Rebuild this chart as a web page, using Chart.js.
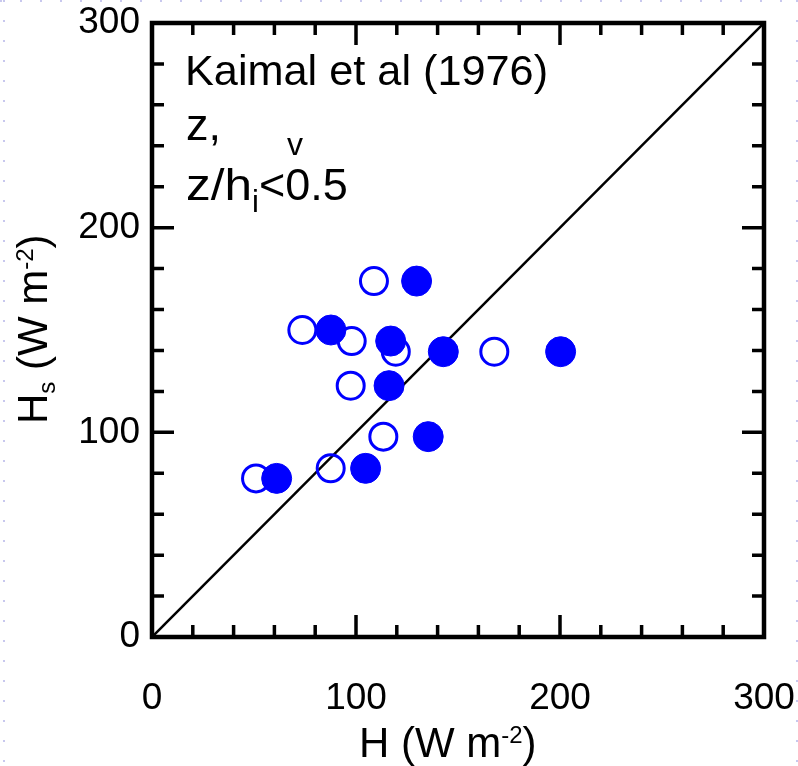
<!DOCTYPE html>
<html>
<head>
<meta charset="utf-8">
<script src="https://cdn.jsdelivr.net/npm/chart.js@4.4.1/dist/chart.umd.min.js"></script>
<style>
  html, body { margin: 0; padding: 0; background: #fff; }
  #caixa { width: 798px; height: 766px; position: relative; }
</style>
</head>
<body>
<div id="caixa"><canvas id="grafico"></canvas></div>
<script>
  // H (eixo x) e Hs (eixo y), em W m-2
  const abertosX = [108.8, 73.7, 97.9, 119.5, 167.8, 97.4, 113.4, 87.6, 51.0];
  const abertosY = [173.9, 150.0, 144.6, 139.4, 139.4, 122.8, 97.9, 82.4, 77.5];
  const cheiosX = [129.7, 87.7, 117.0, 142.8, 200.3, 116.2, 135.4, 104.7, 61.1];
  const cheiosY = [173.9, 150.0, 144.6, 139.4, 139.4, 122.8, 97.9, 82.4, 77.5];
  const linhaX = [0, 300];
  const linhaY = [0, 300];
  const ticksEixo = [0, 100, 200, 300];
  const passoMenor = 20;

  const fonte = "'Liberation Sans', Arial, sans-serif";
  const azul = '#0000ff';

  function pontos(xs, ys) {
    return xs.map((v, i) => ({ x: v, y: ys[i] }));
  }

  // escreve pedaços de texto com sub/sobrescrito
  function textoRico(ctx, x, y, partes) {
    let cx = x;
    partes.forEach(p => {
      const sx = p.sx || 1;
      ctx.font = p.tam + 'px ' + fonte;
      ctx.save();
      ctx.translate(cx, y + (p.dy || 0));
      ctx.scale(sx, 1);
      ctx.fillText(p.t, 0, 0);
      ctx.restore();
      cx += ctx.measureText(p.t).width * sx;
    });
  }

  const pontilhado = {
    id: 'pontilhado',
    beforeDraw(chart) {
      const ctx = chart.ctx;
      ctx.save();
      ctx.strokeStyle = '#c8c8ee';
      ctx.lineWidth = 2;
      ctx.setLineDash([2, 18]);
      ctx.beginPath();
      ctx.moveTo(0, 1); ctx.lineTo(798, 1);
      ctx.moveTo(4, 0); ctx.lineTo(4, 766);
      ctx.moveTo(797, 0); ctx.lineTo(797, 766);
      ctx.stroke();
      ctx.restore();
    }
  };

  const moldura = {
    id: 'moldura',
    afterDraw(chart) {
      const { ctx, chartArea: a, scales: { x, y } } = chart;
      ctx.save();
      ctx.strokeStyle = '#000';
      ctx.lineWidth = 3.5;
      for (let v = 0; v <= 300; v += passoMenor) {
        const tam = ticksEixo.includes(v) ? 22 : 12;
        const px = x.getPixelForValue(v);
        const py = y.getPixelForValue(v);
        ctx.beginPath();
        ctx.moveTo(px, a.bottom); ctx.lineTo(px, a.bottom - tam);
        ctx.moveTo(px, a.top); ctx.lineTo(px, a.top + tam);
        ctx.moveTo(a.left, py); ctx.lineTo(a.left + tam, py);
        ctx.moveTo(a.right, py); ctx.lineTo(a.right - tam, py);
        ctx.stroke();
      }
      ctx.lineWidth = 4.5;
      ctx.strokeRect(a.left, a.top, a.right - a.left, a.bottom - a.top);

      ctx.fillStyle = '#000';
      ctx.textAlign = 'left';
      ctx.textBaseline = 'alphabetic';

      // anotação
      textoRico(ctx, 185, 85, [{ t: 'Kaimal et al (1976)', tam: 42, sx: 1.03 }]);
      textoRico(ctx, 186, 140, [{ t: 'z,', tam: 45 }]);
      textoRico(ctx, 287, 155, [{ t: 'v', tam: 32 }]);
      textoRico(ctx, 186, 200, [
        { t: 'z/h', tam: 45, sx: 1.1 },
        { t: 'i', tam: 31, dy: 12 },
        { t: '<0.5', tam: 45 }
      ]);

      // título do eixo x
      textoRico(ctx, 359, 757, [
        { t: 'H (W m', tam: 42 },
        { t: '-2', tam: 24, dy: -14 },
        { t: ')', tam: 42 }
      ]);

      // título do eixo y
      ctx.translate(47, 424);
      ctx.rotate(-Math.PI / 2);
      textoRico(ctx, 0, 0, [
        { t: 'H', tam: 42 },
        { t: 's', tam: 24, dy: 8 },
        { t: ' (W m', tam: 42 },
        { t: '-2', tam: 24, dy: -14 },
        { t: ')', tam: 42 }
      ]);
      ctx.restore();
    }
  };

  function semPadding(s) {
    s.paddingLeft = 0;
    s.paddingRight = 0;
    s.paddingTop = 0;
    s.paddingBottom = 0;
  }

  const eixo = (pos, extra) => Object.assign({
    type: 'linear',
    position: pos,
    min: 0,
    max: 300,
    grid: { display: false, drawTicks: false },
    border: { display: false },
    afterBuildTicks: s => { s.ticks = ticksEixo.map(v => ({ value: v })); },
    ticks: {
      color: '#000',
      autoSkip: false,
      maxRotation: 0,
      font: { family: fonte, size: 37 }
    }
  }, extra);

  const ctx = document.getElementById('grafico').getContext('2d');

  new Chart(ctx, {
    type: 'scatter',
    data: {
      datasets: [
        {
          label: 'cheios',
          data: pontos(cheiosX, cheiosY),
          backgroundColor: azul,
          borderColor: azul,
          borderWidth: 1,
          pointRadius: 15,
          pointHoverRadius: 15
        },
        {
          label: 'abertos',
          data: pontos(abertosX, abertosY),
          backgroundColor: 'rgba(0,0,0,0)',
          borderColor: azul,
          borderWidth: 3,
          pointRadius: 13.5,
          pointHoverRadius: 13.5
        },
        {
          type: 'line',
          label: '1:1',
          data: pontos(linhaX, linhaY),
          borderColor: '#000',
          borderWidth: 2.5,
          pointRadius: 0,
          fill: false
        }
      ]
    },
    options: {
      responsive: true,
      maintainAspectRatio: false,
      animation: false,
      layout: { padding: { top: 23, right: 34, left: 0, bottom: 0 } },
      plugins: {
        legend: { display: false },
        tooltip: { enabled: false }
      },
      scales: {
        x: eixo('bottom', { afterFit: s => { s.height = 129; semPadding(s); } }),
        y: eixo('left', { afterFit: s => { s.width = 152; semPadding(s); } })
      }
    },
    plugins: [pontilhado, moldura]
  });

  // ajuste do padding dos rótulos
  Chart.getChart('grafico').options.scales.x.ticks.padding = 40;
  Chart.getChart('grafico').options.scales.y.ticks.padding = 12;
  Chart.getChart('grafico').update();
</script>
</body>
</html>
